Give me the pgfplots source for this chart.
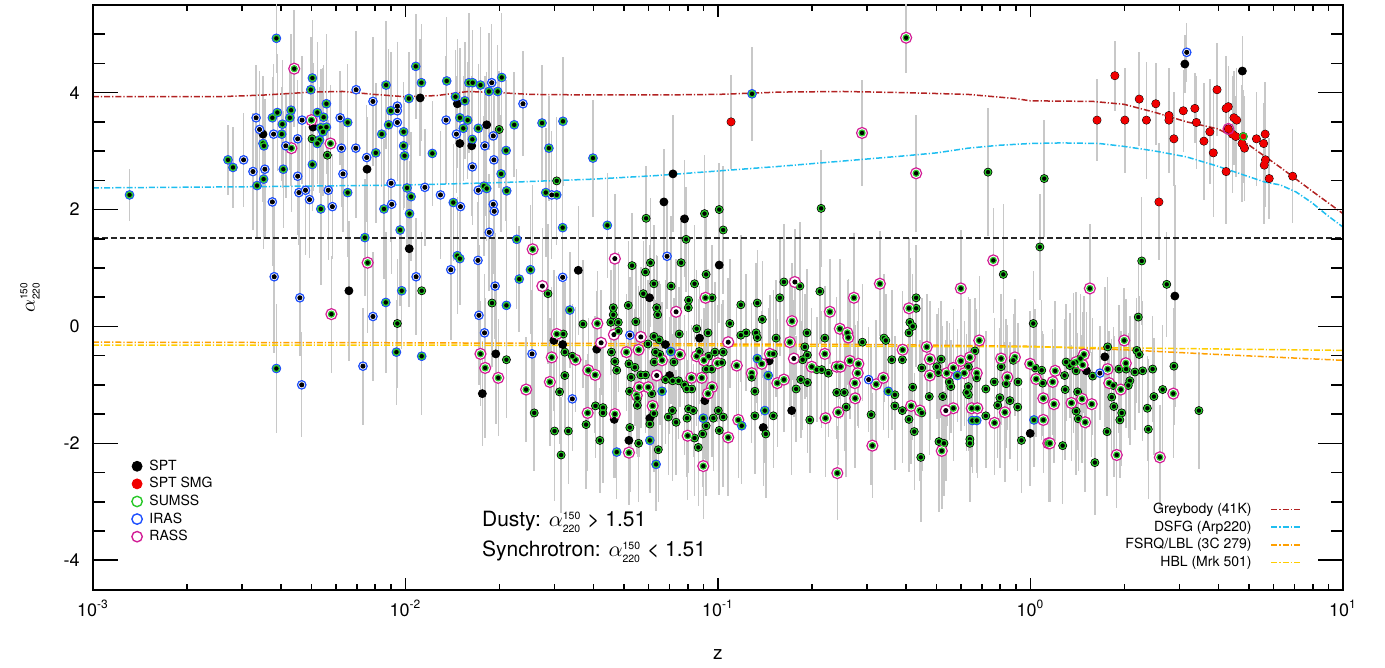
\documentclass[border=0pt]{standalone}
\usepackage{fontspec}
\setmainfont{TeX Gyre Heros}
\usepackage{pgfplots}
\usepackage{pgfplotstable}
\pgfplotsset{compat=1.18}

\definecolor{barc}{RGB}{200,200,200}
\definecolor{sgreen}{RGB}{40,200,40}
\definecolor{iblue}{RGB}{30,80,255}
\definecolor{rmag}{RGB}{210,30,150}
\definecolor{smgred}{RGB}{240,0,0}
\definecolor{greyb}{RGB}{178,34,34}
\definecolor{dsfg}{RGB}{30,190,240}
\definecolor{fsrq}{RGB}{255,160,0}
\definecolor{hbl}{RGB}{255,205,0}

% columns: lz = log10(z), a = alpha_220^150, e = error
\pgfplotstableread{
lz a e
-2.883 2.25 0.45
-2.413 4.93 0.6
-2.298 4.25 1.0
-2.303 4.05 0.9
-2.062 4.13 1.1
-1.989 3.90 0.8
-2.253 3.81 1.2
-2.410 3.66 1.0
-2.426 3.57 0.7
-2.366 3.70 1.3
-2.370 3.57 0.9
-2.394 3.46 1.1
-2.396 3.29 0.8
-2.456 3.13 1.0
-2.453 3.09 0.7
-2.282 3.66 1.2
-2.262 3.58 0.9
-2.271 3.40 1.0
-2.253 3.41 0.8
-2.264 3.33 1.1
-2.275 3.19 0.9
-2.282 3.13 0.7
-2.185 3.49 1.0
-2.095 2.97 1.2
-2.076 3.29 0.9
-2.054 3.45 1.3
-2.047 3.69 1.0
-2.006 3.33 0.8
-2.006 3.09 1.1
-2.003 2.92 0.9
-2.568 2.85 0.6
-2.552 2.72 0.7
-2.454 2.52 1.2
-2.475 2.41 0.9
-2.391 2.69 1.0
-2.298 2.77 0.8
-2.271 2.01 1.3
-2.185 2.29 1.1
-1.995 2.37 1.0
-2.069 2.01 1.2
-1.987 1.93 0.9
-1.982 2.22 1.1
-2.017 1.65 1.3
-2.130 1.52 1.0
-2.012 0.61 1.0
-2.063 0.41 1.2
-2.029 -0.44 0.9
-2.413 -0.72 1.1
-1.847 2.12 1.0
-1.749 2.40 1.2
-1.740 2.36 0.9
-1.676 2.32 1.0
-1.551 2.29 1.1
-1.516 2.25 0.8
-1.497 1.69 1.0
-1.354 1.73 0.9
-1.644 1.49 1.2
-1.834 1.21 1.0
-1.826 1.16 0.8
-1.600 0.97 1.1
-1.636 0.81 0.9
-1.474 0.28 1.0
-1.677 0.36 1.2
-1.948 -0.51 1.0
-1.151 -0.43 0.9
-1.324 -2.15 0.8
-1.179 -1.11 1.0
-1.218 -1.95 0.9
-1.198 -2.36 0.8
-1.047 -1.57 1.0
-1.967 4.45 0.9
-1.949 4.17 1.0
-1.868 4.20 1.1
-1.840 3.93 0.8
-1.810 3.86 1.0
-1.797 4.17 1.2
-1.785 4.17 0.9
-1.760 4.13 1.0
-1.692 4.26 1.1
-1.705 4.02 0.8
-1.733 4.02 1.0
-1.826 3.57 1.2
-1.815 3.39 0.9
-1.801 3.53 1.0
-1.767 3.39 1.1
-1.652 3.45 0.9
-1.786 3.20 1.0
-1.678 3.01 1.2
-1.694 2.61 1.0
-1.914 2.96 0.9
-1.563 3.48 1.0
-1.496 3.51 1.1
-1.541 3.05 0.9
-0.891 3.98 0.8
-1.400 2.88 1.0
-0.874 -0.55 0.9
-0.839 -0.84 1.0
-0.234 -0.84 0.8
-0.186 -1.61 0.9
-0.172 -1.61 0.9
0.011 -1.60 0.8
-0.924 -1.70 1.0
-0.850 -1.44 0.9
-0.455 -1.11 0.8
}\tabSI

\pgfplotstableread{
lz a e
-2.158 4.05 1.0
-2.104 3.85 1.1
-2.478 3.57 0.9
-2.467 3.37 1.0
-2.422 3.29 1.2
-2.383 3.09 0.9
-2.345 3.21 1.0
-2.331 3.53 1.1
-2.209 3.57 0.8
-2.205 3.05 1.0
-2.159 3.05 1.2
-2.124 2.89 0.9
-2.026 3.49 1.0
-2.026 3.77 1.1
-2.026 3.69 0.9
-2.518 2.85 0.8
-2.488 2.65 1.0
-2.450 2.69 1.2
-2.345 2.57 1.0
-2.341 2.29 0.9
-2.320 2.33 1.1
-2.307 2.17 1.0
-2.247 2.33 1.2
-2.234 2.05 0.9
-2.200 2.61 1.0
-2.426 2.13 1.1
-2.046 2.45 1.0
-2.044 2.09 1.2
-2.420 0.85 1.3
-2.338 0.49 1.0
-2.104 0.17 1.1
-2.136 -0.68 1.0
-2.332 -1.00 0.9
-1.938 2.38 1.0
-1.888 2.25 1.1
-1.824 2.05 0.9
-1.767 2.33 1.0
-1.719 2.09 1.2
-1.716 1.97 0.9
-1.732 1.61 1.0
-1.532 2.25 1.1
-1.768 1.13 1.0
-1.855 0.97 1.2
-1.966 0.85 1.0
-1.713 0.69 0.9
-1.497 0.84 1.1
-1.163 1.20 0.9
-1.282 -0.15 1.0
-1.595 -0.47 1.1
-1.747 -0.11 1.0
-1.765 0.19 1.2
-1.466 -1.24 0.9
-1.724 4.17 1.0
-1.624 3.81 0.9
-1.870 3.53 1.1
-1.837 3.29 1.0
-1.746 3.09 1.2
-1.719 3.26 0.9
-1.786 2.73 1.0
-1.717 2.85 1.1
-0.518 -0.91 0.9
0.222 -0.80 0.8
0.500 4.69 0.5
}\tabI

\pgfplotstableread{
lz a e
-2.299 3.21 1.0
-2.250 2.93 0.9
-2.026 0.05 1.1
-1.700 3.37 1.0
-1.516 2.49 1.1
-1.230 1.85 0.9
-1.043 1.93 1.0
-0.996 2.00 0.8
-0.983 1.65 1.1
-1.102 1.49 0.9
-1.948 0.61 1.0
-1.544 0.56 1.2
-1.275 1.04 0.9
-1.232 0.93 1.0
-1.216 1.09 1.1
-1.118 1.09 0.8
-1.205 0.73 1.0
-1.150 0.69 1.2
-1.239 0.56 0.9
-1.075 0.73 1.0
-1.038 0.89 1.1
-1.019 0.49 0.9
-1.094 0.45 1.0
-1.095 0.32 1.2
-1.196 0.32 0.9
-1.193 0.20 1.0
-1.287 0.36 1.1
-1.335 0.32 0.8
-1.335 0.20 1.0
-1.319 0.07 1.2
-1.343 0.07 0.9
-1.263 0.08 1.0
-1.432 0.04 1.1
-1.319 -0.08 0.9
-1.495 -0.13 1.0
-1.490 -0.44 1.2
-1.466 -0.51 0.9
-1.341 -0.44 1.0
-1.224 -0.30 1.1
-1.205 -0.17 0.8
-1.188 -0.23 1.0
-1.186 -0.48 1.2
-1.200 -0.44 0.9
-1.204 -0.61 1.0
-1.141 -0.61 1.1
-1.060 -0.43 0.9
-1.030 -0.51 1.0
-1.010 -0.44 1.2
-0.983 -0.44 0.9
-1.068 -0.04 1.0
-1.032 -0.11 1.1
-1.124 -0.13 0.8
-0.988 -0.62 1.0
-1.020 -0.73 1.2
-1.038 -0.73 0.9
-1.330 -0.60 1.0
-1.324 -0.75 1.1
-1.285 -0.64 0.9
-1.266 -0.70 1.0
-1.278 -0.87 1.2
-1.247 -0.83 0.9
-1.232 -0.83 1.0
-1.168 -0.91 1.1
-1.145 -0.93 0.8
-1.126 -0.93 1.0
-1.107 -1.00 1.2
-1.490 -0.84 0.9
-1.677 -0.57 1.0
-1.723 0.40 1.1
-1.507 -1.12 0.9
-1.588 -1.48 1.0
-1.523 -1.79 1.2
-1.479 -1.79 0.9
-1.502 -2.20 1.0
-1.422 -1.68 1.1
-1.392 -1.36 0.9
-1.368 -1.39 1.0
-1.368 -1.48 1.2
-1.378 -1.95 0.9
-1.254 -2.00 1.0
-1.282 -1.73 1.1
-1.258 -1.35 0.8
-1.258 -1.23 1.0
-1.283 -1.11 1.2
-1.212 -1.15 0.9
-1.205 -1.49 1.0
-1.218 -1.67 1.1
-1.191 -2.11 0.9
-1.159 -1.55 1.0
-1.146 -1.44 1.2
-1.134 -1.64 0.9
-1.099 -1.57 1.0
-1.094 -1.41 1.1
-1.079 -1.44 0.8
-1.075 -1.91 1.0
-1.038 -1.70 1.2
-1.049 -1.84 0.9
-1.063 -2.07 1.0
-0.996 -1.78 1.1
-1.015 -1.57 0.9
-0.999 -1.44 1.0
-0.983 -1.55 1.2
-1.084 -1.07 0.9
-1.100 -1.07 1.0
-0.789 0.76 1.0
-0.738 0.69 1.1
-0.674 0.60 0.9
-0.802 0.49 1.0
-0.927 0.37 1.2
-0.874 0.40 0.9
-0.858 0.12 1.0
-0.962 0.05 1.1
-0.927 -0.15 0.8
-0.910 -0.11 1.0
-0.878 -0.11 1.2
-0.874 -0.19 0.9
-0.814 -0.20 1.0
-0.715 -0.11 1.1
-0.722 -0.35 0.9
-0.714 -0.49 1.0
-0.729 -0.57 1.2
-0.658 -0.20 0.9
-0.538 -0.27 1.0
-0.469 -0.20 1.1
-0.463 -0.24 0.8
-0.410 -0.57 1.0
-0.444 -0.57 1.2
-0.366 0.49 0.9
-0.366 0.31 1.0
-0.386 0.07 1.1
-0.377 0.00 0.9
-0.389 -0.11 1.0
-0.087 0.89 1.2
0.009 0.05 0.9
-0.892 -0.87 1.0
-0.823 -0.47 1.1
-0.750 -1.07 0.9
-0.735 -0.91 1.0
-0.714 -0.96 1.2
-0.684 -0.74 0.9
-0.668 -0.74 1.0
-0.647 -0.80 1.1
-0.620 -1.13 0.8
-0.596 -1.13 1.0
-0.590 -1.38 1.2
-0.706 -1.60 0.9
-0.434 -1.17 1.0
-0.434 -1.36 1.1
-0.410 -1.44 0.9
-0.348 -1.48 1.0
-0.510 -1.51 1.2
-0.389 -1.59 0.9
-0.372 -1.80 1.0
-0.351 -2.24 1.1
-0.377 -1.04 0.9
-0.324 -1.20 1.0
-0.348 -0.71 1.2
-0.300 -0.69 0.9
-0.286 -0.56 1.0
-0.295 -0.79 1.1
-0.255 -1.03 0.8
-0.260 -0.95 1.0
-0.199 -0.69 1.2
-0.178 -0.42 0.9
-0.172 -0.88 1.0
-0.199 -1.03 1.1
-0.199 -1.17 0.9
-0.204 -1.13 1.0
-0.281 -1.20 1.2
-0.143 -1.53 0.9
-0.143 -1.07 1.0
-0.116 -0.95 1.1
-0.194 -1.93 0.9
-0.194 -2.00 1.0
-0.293 -1.97 1.2
-0.277 -2.00 0.9
-0.094 -0.69 1.0
-0.078 -0.98 1.1
-0.055 -0.58 0.8
-0.040 -0.95 1.0
-0.098 -1.22 1.2
-0.105 -1.35 0.9
-0.066 -1.27 1.0
-0.041 -1.38 1.1
-0.029 -1.95 0.9
0.015 -0.71 1.0
0.036 -0.75 1.2
0.039 -0.97 0.9
-0.882 -1.53 1.0
-0.847 -1.84 1.1
-0.823 -1.53 0.9
-0.882 -1.11 1.0
0.044 2.53 1.0
0.356 1.12 1.1
0.436 0.72 0.9
0.345 0.16 1.0
0.247 -0.35 1.2
0.340 -0.41 0.9
0.348 -0.48 1.0
0.160 -0.55 1.1
0.126 -0.67 0.9
0.114 -0.61 1.0
0.137 -0.63 1.2
0.146 -0.76 0.9
0.199 -0.85 1.0
0.283 -0.73 1.1
0.306 -0.73 0.8
0.334 -0.78 1.0
0.359 -0.76 1.2
0.391 -0.73 0.9
0.459 -0.68 1.0
0.318 -0.93 1.1
0.313 -1.01 0.9
0.265 -1.01 1.0
0.111 -1.08 1.2
0.109 -0.84 0.9
0.151 -1.12 1.0
0.146 -1.45 1.1
0.153 -1.58 0.9
0.260 -1.21 1.0
0.267 -1.37 1.2
0.292 -1.48 0.9
0.286 -1.60 1.0
0.245 -1.80 1.1
0.206 -2.33 0.9
0.103 -2.04 1.0
0.377 -1.76 1.2
0.374 -1.40 0.9
0.395 -1.20 1.0
0.423 -1.08 1.1
0.539 -1.44 1.0
0.030 1.36 0.9
-0.670 2.02 1.0
-0.136 2.64 1.1
}\tabS

\pgfplotstableread{
lz a e
-2.356 4.41 1.0
-2.365 3.05 1.1
-2.301 3.53 0.9
-2.240 3.13 1.0
-2.121 1.09 1.2
-2.237 0.21 1.0
-1.593 1.32 1.1
-1.386 0.05 0.9
-1.516 -0.13 1.0
-1.532 -0.53 1.2
-1.456 -0.57 0.9
-1.293 -0.44 1.0
-1.254 -0.40 1.1
-1.122 -0.48 0.9
-1.179 -0.58 1.0
-1.068 -0.51 1.2
-1.045 -0.58 0.9
-1.001 -0.63 1.0
-1.040 0.49 1.1
-1.085 -0.88 0.9
-1.052 -0.88 1.0
-1.019 -1.04 1.2
-1.415 -0.75 0.9
-1.393 -0.83 1.0
-1.538 -0.95 1.1
-1.614 -1.08 0.9
-1.703 -0.88 1.0
-1.745 -0.71 1.2
-1.760 -0.47 0.9
-1.417 -1.48 1.0
-1.330 -1.50 1.1
-1.285 -2.16 0.9
-1.260 -1.18 1.0
-1.252 -1.04 1.2
-1.223 -1.04 0.9
-1.209 -1.36 1.0
-1.097 -1.87 1.1
-1.047 -2.39 0.9
-0.967 -1.90 1.0
-1.032 -1.15 1.2
-0.763 0.09 1.0
-0.770 -0.27 1.1
-0.642 0.25 0.9
-0.658 -0.47 1.0
-0.610 -0.04 1.2
-0.586 -0.11 0.9
-0.583 -0.19 1.0
-0.565 0.49 1.1
-0.482 0.73 0.9
-0.409 -0.40 1.0
-0.389 0.31 1.2
-0.332 -0.35 0.9
-0.223 0.65 1.0
-0.164 -0.24 1.1
-0.119 1.13 0.9
-0.940 -0.67 1.0
-0.892 -0.80 1.2
-0.860 -0.64 0.9
-0.834 -0.47 1.0
-0.810 -0.97 1.1
-0.789 -0.91 0.9
-0.700 -0.69 1.0
-0.620 -0.69 1.2
-0.608 -0.69 0.9
-0.578 -0.59 1.0
-0.551 -0.64 1.1
-0.553 -0.80 0.9
-0.562 -0.97 1.0
-0.561 -1.23 1.2
-0.615 -1.47 0.9
-0.656 -1.57 1.0
-0.494 -0.99 1.1
-0.471 -0.88 0.9
-0.382 -1.36 1.0
-0.354 -1.44 1.2
-0.506 -2.04 0.9
-0.618 -2.51 0.8
-0.322 -0.56 1.0
-0.322 -0.84 1.1
-0.268 -0.80 0.9
-0.247 -0.71 1.0
-0.223 -0.59 1.2
-0.212 -0.80 0.9
-0.194 -0.53 1.0
-0.172 -0.80 1.1
-0.247 -1.40 0.9
-0.188 -1.40 1.0
-0.170 -1.40 1.2
-0.115 -1.65 0.9
-0.284 -2.13 1.0
-0.094 -0.55 1.1
-0.074 -0.87 0.9
-0.050 -0.53 1.0
-0.082 -1.47 1.2
-0.001 -0.64 0.9
0.018 -0.90 1.0
0.041 -1.23 1.1
0.041 -1.60 0.9
0.057 -2.00 1.0
-0.935 -1.60 1.0
0.190 0.65 1.1
0.300 -0.24 0.9
0.171 -0.48 1.0
0.146 -0.61 1.2
0.167 -0.66 0.9
0.247 -0.73 1.0
0.305 -0.63 1.1
0.252 -0.97 0.9
0.289 -1.08 1.0
0.079 -0.76 1.2
0.071 -0.95 0.9
0.131 -1.31 1.0
0.165 -1.24 1.1
0.196 -1.33 0.9
0.075 -1.33 1.0
0.175 -1.64 1.2
0.276 -2.20 0.9
0.062 -2.00 1.0
0.457 -1.15 1.1
0.414 -2.24 0.9
-0.398 4.94 0.6
-0.539 3.31 0.9
-0.366 2.62 1.0
}\tabSR

\pgfplotstableread{
lz a e
-1.562 0.69 1.0
-1.330 1.16 1.1
-1.134 0.25 0.9
-1.333 -0.14 1.0
-1.247 -0.18 1.2
-1.374 -0.28 0.9
-1.196 -0.84 1.0
-0.967 -0.27 1.1
-0.754 0.76 0.9
-0.757 -0.55 1.0
-0.271 -1.44 1.2
}\tabR

\pgfplotstableread{
lz a e
-2.456 3.29 1.0
-2.296 3.41 1.1
-2.123 2.69 0.9
-1.988 1.33 1.0
-2.181 0.61 1.2
-1.173 2.13 0.9
-1.107 1.84 1.0
-1.447 0.96 1.1
-1.219 0.49 0.9
-0.996 1.05 1.0
-1.525 -0.24 1.2
-1.497 -0.31 0.9
-1.388 -0.39 1.0
-1.168 -0.31 1.1
-1.059 -0.20 0.9
-1.155 -0.84 1.0
-1.711 -0.47 1.2
-1.754 -1.15 0.9
-1.332 -1.59 1.0
-1.285 -1.95 1.1
-1.218 -1.57 0.9
-1.042 -1.27 1.0
-1.953 3.91 1.0
-1.834 3.81 1.1
-1.740 3.45 0.9
-1.826 3.13 1.0
-1.788 3.09 1.2
-0.836 -0.59 0.9
-0.855 -1.73 1.0
-0.764 -1.44 1.1
-0.001 -1.83 0.9
0.179 -0.76 1.0
0.238 -0.52 1.2
0.462 0.52 1.9
0.494 4.49 0.5
0.678 4.37 0.6
-1.144 2.61 1.0
}\tabB

\pgfplotstableread{
lz a e
-0.958 3.50 0.8
0.213 3.53 0.7
0.270 4.29 0.6
0.302 3.53 0.9
0.348 3.89 0.8
0.371 3.53 1.0
0.401 3.81 0.7
0.443 3.61 0.8
0.443 3.53 0.9
0.459 3.21 0.8
0.411 2.13 1.0
0.489 3.69 0.7
0.526 3.73 0.6
0.531 3.49 0.8
0.555 3.17 1.0
0.574 3.33 0.9
0.585 2.97 1.1
0.597 4.05 0.8
0.626 3.73 0.9
0.633 3.76 0.7
0.626 2.65 0.9
0.633 3.38 0.8
0.646 3.29 1.0
0.651 3.57 0.8
0.660 3.53 0.9
0.657 3.25 0.7
0.681 3.25 0.8
0.677 3.13 1.0
0.685 3.05 0.9
0.723 3.21 0.8
0.746 3.13 0.7
0.751 3.29 0.9
0.752 2.85 0.8
0.748 2.76 1.0
0.764 2.53 0.7
0.839 2.57 0.8
}\tabSMG

% model tracks
\pgfplotstableread{
lz a
-3.00 3.93
-2.60 3.93
-2.45 3.96
-2.30 4.01
-2.20 4.02
-2.10 3.97
-2.00 3.93
-1.90 3.95
-1.80 4.02
-1.70 4.00
-1.60 3.97
-1.40 3.96
-1.20 3.96
-1.00 3.97
-0.80 4.01
-0.60 4.02
-0.40 4.00
-0.20 3.97
-0.05 3.90
0.00 3.86
0.20 3.85
0.30 3.80
0.40 3.66
0.50 3.50
0.60 3.38
0.65 3.24
0.70 3.10
0.80 2.72
0.90 2.32
1.00 1.93
}\tabGB

\pgfplotstableread{
lz a
-3.00 2.37
-2.50 2.39
-2.00 2.42
-1.70 2.46
-1.40 2.52
-1.20 2.58
-1.00 2.66
-0.80 2.74
-0.60 2.83
-0.40 2.92
-0.30 2.97
-0.20 3.05
-0.10 3.10
0.00 3.13
0.10 3.14
0.22 3.13
0.30 3.08
0.40 3.00
0.50 2.90
0.60 2.74
0.70 2.56
0.75 2.47
0.80 2.42
0.85 2.30
0.90 2.12
0.95 1.90
1.00 1.70
}\tabDSFG

\pgfplotstableread{
lz a
-3.00 -0.27
-2.00 -0.28
-1.00 -0.30
-0.50 -0.31
0.00 -0.34
0.30 -0.40
0.60 -0.48
1.00 -0.58
}\tabFSRQ

\pgfplotstableread{
lz a
-3.00 -0.32
-2.00 -0.32
-1.00 -0.33
0.00 -0.35
0.50 -0.38
1.00 -0.41
}\tabHBL

\pgfplotsset{
  ebar/.style={only marks, mark=none, forget plot,
    error bars/.cd, y dir=both, y explicit, error mark=none,
    error bar style={draw=barc, line width=0.75pt}},
  ring/.style 2 args={only marks, forget plot, mark=*, mark size=#2,
    mark options={fill=white, draw=#1, line width=0.6pt}},
  dd/.style={line width=0.75pt, dash pattern=on 3pt off 1pt on 0.6pt off 1pt},
}

\begin{document}
\begin{tikzpicture}
\begin{axis}[
  name=main,
  scale only axis, width=625pt, height=292.5pt,
  xmode=log, xmin=1e-3, xmax=10,
  ymin=-4.51, ymax=5.5,
  axis line style={line width=0.8pt},
  every tick/.style={black, line width=0.8pt},
  tick align=inside,
  major tick length=6pt, minor tick length=3pt,
  xtick={1e-3,1e-2,1e-1,1,10},
  xticklabels={10\textsuperscript{-3},10\textsuperscript{-2},10\textsuperscript{-1},10\textsuperscript{0},10\textsuperscript{1}},
  minor xtick={0.002,0.003,0.004,0.005,0.006,0.007,0.008,0.009,
    0.02,0.03,0.04,0.05,0.06,0.07,0.08,0.09,
    0.2,0.3,0.4,0.5,0.6,0.7,0.8,0.9,2,3,4,5,6,7,8,9},
  ytick=\empty,
  xticklabel style={font=\fontsize{9}{10}\selectfont, anchor=north, inner sep=0pt, yshift=-5pt},
  xlabel={z},
  xlabel style={at={(axis description cs:0.5,-0.111)}, anchor=center, font=\fontsize{9.5}{11}\selectfont},
  legend cell align=left,
  legend image code/.code={\draw[#1] plot coordinates {(0pt,0pt)};},
  legend style={at={(axis description cs:0.026,0.232)}, anchor=north west,
    draw=none, fill=none, font=\fontsize{7}{8}\selectfont, row sep=1.2pt,
    nodes={inner sep=0.6pt, text height=5.2pt, text depth=1.2pt},
    /tikz/every odd column/.append style={column sep=3pt}},
]
% error bars
\addplot[ebar] table[x expr=10^(\thisrow{lz}), y=a, y error=e] {\tabSI};
\addplot[ebar] table[x expr=10^(\thisrow{lz}), y=a, y error=e] {\tabI};
\addplot[ebar] table[x expr=10^(\thisrow{lz}), y=a, y error=e] {\tabS};
\addplot[ebar] table[x expr=10^(\thisrow{lz}), y=a, y error=e] {\tabSR};
\addplot[ebar] table[x expr=10^(\thisrow{lz}), y=a, y error=e] {\tabR};
\addplot[ebar] table[x expr=10^(\thisrow{lz}), y=a, y error=e] {\tabB};
\addplot[ebar] table[x expr=10^(\thisrow{lz}), y=a, y error=e] {\tabSMG};

% model lines
\addplot[forget plot, greyb, dd] table[x expr=10^(\thisrow{lz}), y=a] {\tabGB};
\addplot[forget plot, dsfg, dd] table[x expr=10^(\thisrow{lz}), y=a] {\tabDSFG};
\addplot[forget plot, fsrq, dd] table[x expr=10^(\thisrow{lz}), y=a] {\tabFSRQ};
\addplot[forget plot, hbl, dd] table[x expr=10^(\thisrow{lz}), y=a] {\tabHBL};
\addplot[forget plot, black!85, line width=0.75pt, dash pattern=on 3pt off 1.5pt] coordinates {(1e-3,1.51) (10,1.51)};

% outer rings
\addplot[ring={rmag}{2.75pt}] table[x expr=10^(\thisrow{lz}), y=a] {\tabSR};
\addplot[ring={rmag}{2.75pt}] table[x expr=10^(\thisrow{lz}), y=a] {\tabR};
\addplot[ring={iblue}{2.1pt}] table[x expr=10^(\thisrow{lz}), y=a] {\tabSI};
\addplot[ring={iblue}{2.1pt}] table[x expr=10^(\thisrow{lz}), y=a] {\tabI};

% SUMSS (green ring, black centre)
\addplot[only marks, forget plot, mark=*, mark size=1.5pt, mark options={fill=black, draw=sgreen, line width=0.6pt}]
  table[x expr=10^(\thisrow{lz}), y=a] {\tabSI};
\addplot[only marks, forget plot, mark=*, mark size=1.5pt, mark options={fill=black, draw=sgreen, line width=0.6pt}]
  table[x expr=10^(\thisrow{lz}), y=a] {\tabSR};
\addplot[only marks, forget plot, mark=*, mark size=1.5pt, mark options={fill=black, draw=sgreen, line width=0.6pt}]
  table[x expr=10^(\thisrow{lz}), y=a] {\tabS};

% plain SPT centres
\addplot[only marks, forget plot, mark=*, mark size=1.05pt, black] table[x expr=10^(\thisrow{lz}), y=a] {\tabI};
\addplot[only marks, forget plot, mark=*, mark size=1.05pt, black] table[x expr=10^(\thisrow{lz}), y=a] {\tabR};
\addplot[only marks, forget plot, mark=*, mark size=1.05pt, black] table[x expr=10^(\thisrow{lz}), y=a] {\tabB};

% SPT SMG
\addplot[only marks, forget plot, mark=*, mark size=1.75pt, smgred] table[x expr=10^(\thisrow{lz}), y=a] {\tabSMG};
\addplot[only marks, forget plot, mark=o, mark size=2.7pt, rmag, mark options={line width=0.6pt}] coordinates {(4.30,3.38)};
\addplot[only marks, forget plot, mark=o, mark size=1.8pt, sgreen, mark options={line width=0.6pt}] coordinates {(4.80,3.25)};

\addlegendimage{mark=*, black, mark size=2.5pt}
\addlegendentry{SPT}
\addlegendimage{mark=*, smgred, mark size=2.5pt}
\addlegendentry{SPT SMG}
\addlegendimage{mark=o, sgreen, mark size=2.6pt, line width=0.7pt}
\addlegendentry{SUMSS}
\addlegendimage{mark=o, iblue, mark size=2.6pt, line width=0.7pt}
\addlegendentry{IRAS}
\addlegendimage{mark=o, rmag, mark size=2.6pt, line width=0.7pt}
\addlegendentry{RASS}

\node[anchor=base west, font=\fontsize{10.5}{12}\selectfont, inner sep=0pt] at (axis description cs:0.311,0.1077)
  {Dusty: $\alpha^{\scriptscriptstyle\mathrm{150}}_{\scriptscriptstyle\mathrm{220}}$ > 1.51};
\node[anchor=base west, font=\fontsize{10.5}{12}\selectfont, inner sep=0pt] at (axis description cs:0.311,0.0564)
  {Synchrotron: $\alpha^{\scriptscriptstyle\mathrm{150}}_{\scriptscriptstyle\mathrm{220}}$ < 1.51};
\end{axis}

\begin{axis}[
  scale only axis, width=625pt, height=292.5pt,
  xmode=log, xmin=1e-3, xmax=10,
  ymin=-4.51, ymax=5.5,
  hide x axis,
  axis line style={line width=0.8pt},
  every tick/.style={black, line width=0.8pt},
  tick align=inside,
  major tick length=12.5pt, minor tick length=6.25pt,
  ytick={-4,-2,0,2,4},
  yticklabels={-4,-2,0,2,4},
  minor ytick={-4.5,-3.5,-3,-2.5,-1.5,-1,-0.5,0.5,1,1.5,2.5,3,3.5,4.5,5},
  yticklabel style={font=\fontsize{9}{10}\selectfont, inner sep=0pt, xshift=-6.5pt},
  ylabel={$\alpha^{\scriptscriptstyle\mathrm{150}}_{\scriptscriptstyle\mathrm{220}}$},
  every axis y label/.style={at={(axis description cs:-0.0504,0.5)}, rotate=90, anchor=center, font=\fontsize{10}{12}\selectfont},
  legend plot pos=right,
  legend cell align=right,
  legend image code/.code={\draw[#1] (0pt,0pt) -- (15pt,0pt);},
  legend style={at={(axis description cs:0.9725,0.158)}, anchor=north east,
    draw=none, fill=none, font=\fontsize{7}{8}\selectfont, row sep=1.2pt,
    nodes={inner sep=0.6pt, text height=5.2pt, text depth=1.2pt},
    /tikz/every odd column/.append style={column sep=9pt}},
]
\addlegendimage{greyb, dd}
\addlegendentry{Greybody (41K)}
\addlegendimage{dsfg, dd}
\addlegendentry{DSFG (Arp220)}
\addlegendimage{fsrq, dd}
\addlegendentry{FSRQ/LBL (3C 279)}
\addlegendimage{hbl, dd}
\addlegendentry{HBL (Mrk 501)}
\end{axis}
\path ([shift={(-46.5pt,-39pt)}]main.south west) rectangle ([shift={(21pt,2.5pt)}]main.north east);
\end{tikzpicture}
\end{document}
